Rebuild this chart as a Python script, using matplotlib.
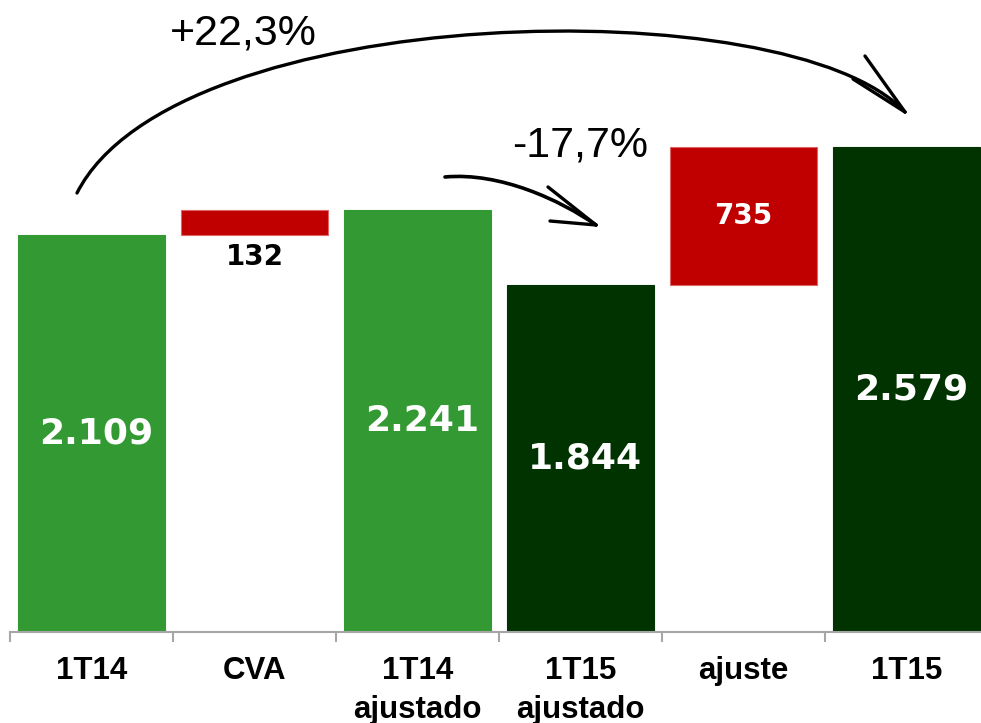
import matplotlib.pyplot as plt
from matplotlib.path import Path
from matplotlib.patches import PathPatch
import numpy as np

# dados (R$ milhoes)
categorias = ['1T14', 'CVA', '1T14\najustado', '1T15\najustado', 'ajuste', '1T15']
valores = [2109, 132, 2241, 1844, 735, 2579]
bases = [0, 2109, 0, 0, 1844, 0]
cores = ['#339933', '#C00000', '#339933', '#003300', '#C00000', '#003300']
rotulos = ['2.109', '132', '2.241', '1.844', '735', '2.579']
var_ano = '+22,3%'
var_ajust = '-17,7%'

W, H = 981, 723
fig = plt.figure(figsize=(W / 100, H / 100), dpi=100)
ax = fig.add_axes([10 / W, (H - 632) / H, 978 / W, 632 / H])

x = np.arange(len(categorias))
for i in range(len(categorias)):
    ec = '#E06666' if cores[i] == '#C00000' else cores[i]
    ax.bar(x[i], valores[i], bottom=bases[i], width=0.9, color=cores[i],
           edgecolor=ec, linewidth=0.8)

ax.set_xlim(-0.5, len(categorias) - 0.5)
ax.set_ylim(0, 632 / 0.1882)

# rotulos das barras
for i in range(len(categorias)):
    meio = bases[i] + valores[i] / 2
    if categorias[i] == 'CVA':
        ax.annotate(rotulos[i], (x[i], bases[i]), xytext=(0, -16), textcoords='offset points',
                    ha='center', va='center', fontsize=20, fontweight='bold',
                    color='black', family='DejaVu Sans')
    elif categorias[i] == 'ajuste':
        ax.text(x[i], meio, rotulos[i], ha='center', va='center', fontsize=20,
                fontweight='bold', color='white', family='DejaVu Sans')
    else:
        ax.text(x[i] + 0.03, meio, rotulos[i], ha='center', va='center', fontsize=26,
                fontweight='bold', color='white', family='DejaVu Sans')

# eixo
for s in ['top', 'right', 'left']:
    ax.spines[s].set_visible(False)
ax.spines['bottom'].set_color('#A6A6A6')
ax.spines['bottom'].set_linewidth(1.5)
ax.set_yticks([])
ax.set_xticks(x)
ax.set_xticklabels(categorias, fontsize=22.5, fontweight='bold', family='Liberation Sans',
                   linespacing=1.4)
ax.tick_params(axis='x', which='major', length=0, pad=17)
ax.set_xticks(np.arange(-0.5, len(categorias)), minor=True)
ax.tick_params(axis='x', which='minor', length=7, width=1.5, color='#A6A6A6')


def px(p):
    return (p[0] / W, 1 - p[1] / H)


def curva(pts, lw):
    verts = [px(p) for p in pts]
    path = Path(verts, [Path.MOVETO, Path.CURVE4, Path.CURVE4, Path.CURVE4])
    fig.add_artist(PathPatch(path, facecolor='none', edgecolor='black', lw=lw,
                             transform=fig.transFigure, capstyle='round'))


def ponta(tip, a, b, lw):
    for q in (a, b):
        p1, p2 = px(q), px(tip)
        fig.add_artist(plt.Line2D([p1[0], p2[0]], [p1[1], p2[1]], color='black', lw=lw,
                                  transform=fig.transFigure, solid_capstyle='round'))


# seta grande
curva([(77, 193), (175, 0), (790, -12), (905, 112)], 2.4)
ponta((905, 112), (865, 56), (853, 79), 2.4)
# seta pequena
curva([(445, 177), (500, 172), (560, 200), (596, 225)], 2.6)
ponta((596, 225), (548, 187), (550, 221), 2.4)

fig.text(243 / W, 1 - 45 / H, var_ano, ha='center', va='baseline', fontsize=31,
         family='Liberation Sans')
fig.text(580 / W, 1 - 157 / H, var_ajust, ha='center', va='baseline', fontsize=31,
         family='Liberation Sans')

fig.savefig('out.png', dpi=100)
